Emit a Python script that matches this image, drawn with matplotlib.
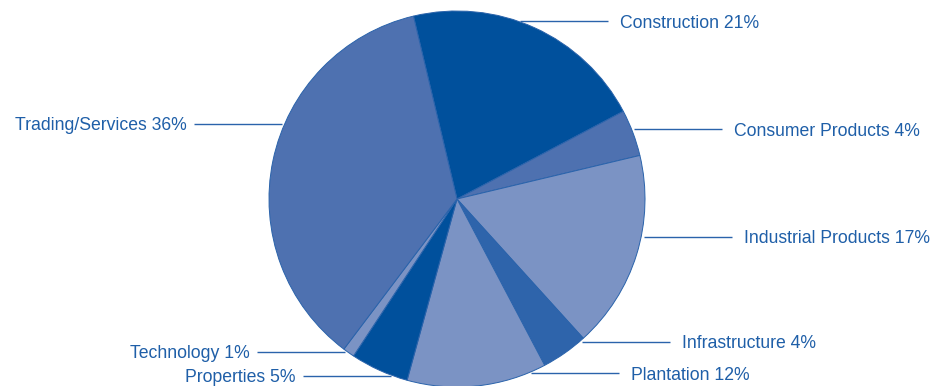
import numpy as np
import matplotlib.pyplot as plt

sectors = ['Construction', 'Consumer Products', 'Industrial Products', 'Infrastructure',
           'Plantation', 'Properties', 'Technology', 'Trading/Services']
shares = [21, 4, 17, 4, 12, 5, 1, 36]

dark = '#00509c'
mid = '#4e71b0'
light = '#7b93c4'
infra = '#2e64ab'
colors = [dark, mid, light, infra, light, dark, light, mid]

# label placement (pixel rows from the top of the figure) and side
label_rows = [21, 129, 237, 342, 373, 376, 352, 124]
label_side = [1, 1, 1, 1, 1, -1, -1, -1]

W, H = 953, 386
cx, cy, r = 457, 187, 188
text_color = '#1f5fa8'
line_color = '#2a63ab'

fig = plt.figure(figsize=(W / 100, H / 100), dpi=100)
ax = fig.add_axes([0, 0, 1, 1])

ax.pie(shares, colors=colors, startangle=103.4, counterclock=False,
       center=(cx, cy), radius=r, frame=True,
       wedgeprops=dict(edgecolor=line_color, linewidth=0.7))
ax.set_xlim(0, W)
ax.set_ylim(0, H)
ax.axis('off')

for name, val, row, side in zip(sectors, shares, label_rows, label_side):
    y = H - row
    dy = y - cy
    dx = np.sqrt(max(r ** 2 - dy ** 2, 0))
    x0 = cx + side * (dx + 3)
    x1 = x0 + side * 88
    ax.plot([x0, x1], [y, y], color=line_color, lw=1.0, solid_capstyle='butt')
    gap = 12 if side > 0 else 7
    ax.text(x1 + side * gap, y, f'{name} {val}%', color=text_color,
            fontsize=12.7, family='Liberation Sans', va='center_baseline',
            ha='left' if side > 0 else 'right')

fig.savefig('out.png', dpi=100)
